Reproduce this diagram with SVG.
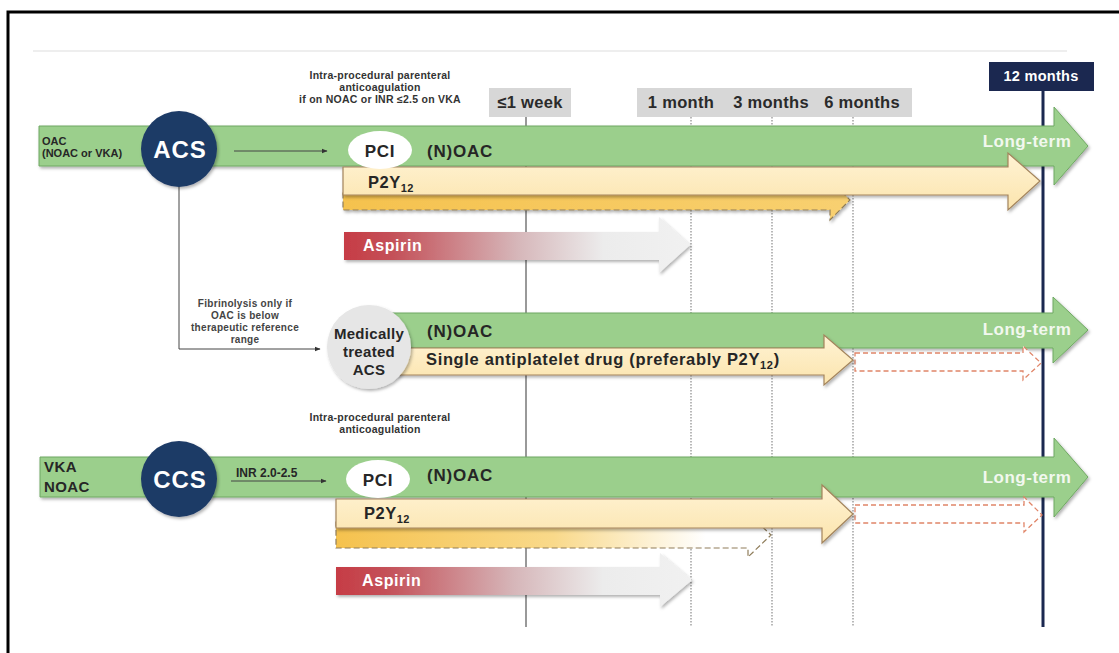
<svg xmlns="http://www.w3.org/2000/svg" width="1119" height="653" viewBox="0 0 1119 653">
<style>
  text { font-family: "Liberation Sans", Arial, sans-serif; font-weight: bold; }
  .dark { fill: #262626; }
  .white { fill: #ffffff; }
  .note { font-size: 10.5px; fill: #333; letter-spacing: 0.25px; }
  .fib { font-size: 10px; fill: #444; letter-spacing: 0.3px; }
  .tick { font-size: 16.5px; fill: #2a2a2a; letter-spacing: 0.3px; }
  .green { fill: #9bcf8c; stroke: #6fa862; stroke-width: 1; }
  .cream { fill: url(#gCream); stroke: #a3845c; stroke-width: 1.2; }
  .navy { fill: #1d3a66; }
  .lbl17 { font-size: 17px; fill: #262626; letter-spacing: 0.8px; }
  .lt { font-size: 17px; fill: #f2f8ef; letter-spacing: 0.5px; }
  .vline { stroke: #8a8a8a; stroke-width: 1.2; stroke-dasharray: 1.5 1.5; fill: none; }
  .conn { stroke: #444; stroke-width: 1; fill: none; }
  .reddash { fill: #ffffff; stroke: #e08568; stroke-width: 1.3; stroke-dasharray: 5 3; }
  .golddash { stroke: #8f7d5a; stroke-width: 1.2; stroke-dasharray: 6 3; }
  .asp { font-size: 16px; fill: #ffffff; letter-spacing: 0.6px; }
</style>
<defs>
  <filter id="sh" x="-5%" y="-20%" width="110%" height="150%">
    <feDropShadow dx="1.5" dy="2" stdDeviation="1.5" flood-color="#000" flood-opacity="0.3"/>
  </filter>
  <linearGradient id="gCream" x1="0" y1="0" x2="0" y2="1">
    <stop offset="0" stop-color="#fff3d4"/>
    <stop offset="1" stop-color="#fbe4ad"/>
  </linearGradient>
  <linearGradient id="gGoldTop" x1="0" y1="0" x2="1" y2="0">
    <stop offset="0" stop-color="#f5c24e"/>
    <stop offset="1" stop-color="#f8d070"/>
  </linearGradient>
  <linearGradient id="gGoldBot" x1="0" y1="0" x2="1" y2="0">
    <stop offset="0" stop-color="#f5c24e"/>
    <stop offset="0.5" stop-color="#f9d98a"/>
    <stop offset="0.85" stop-color="#ffffff"/>
    <stop offset="1" stop-color="#ffffff"/>
  </linearGradient>
  <linearGradient id="gAsp" x1="0" y1="0" x2="1" y2="0">
    <stop offset="0" stop-color="#c63c45"/>
    <stop offset="0.15" stop-color="#c4525a"/>
    <stop offset="0.5" stop-color="#d6b6b9"/>
    <stop offset="0.75" stop-color="#ececec"/>
    <stop offset="1" stop-color="#f1f1f1"/>
  </linearGradient>
  <marker id="ah" viewBox="0 0 10 10" refX="9" refY="5" markerWidth="6" markerHeight="6" orient="auto">
    <path d="M0,1 L10,5 L0,9 Z" fill="#333"/>
  </marker>
</defs>

<rect width="1119" height="653" fill="#ffffff"/>
<rect x="8" y="12" width="1125" height="650" fill="none" stroke="#000" stroke-width="3"/>
<line x1="33" y1="51" x2="1067" y2="51" stroke="#eeeeee" stroke-width="2"/>

<!-- timeline -->
<g id="timeline">
  <line x1="526" y1="117" x2="526" y2="627" stroke="#777" stroke-width="1.5"/>
  <line class="vline" x1="691" y1="117" x2="691" y2="627"/>
  <line class="vline" x1="772" y1="117" x2="772" y2="627"/>
  <line class="vline" x1="853" y1="117" x2="853" y2="627"/>
  <line x1="1043" y1="91" x2="1043" y2="627" stroke="#1b2850" stroke-width="3"/>
  <rect x="489" y="88" width="82" height="29" fill="#d7d7d7"/>
  <text class="tick" x="530" y="108" text-anchor="middle">≤1 week</text>
  <rect x="637" y="88" width="275" height="29" fill="#d7d7d7"/>
  <text class="tick" x="681" y="108" text-anchor="middle">1 month</text>
  <text class="tick" x="771" y="108" text-anchor="middle">3 months</text>
  <text class="tick" x="862" y="108" text-anchor="middle">6 months</text>
  <rect x="989" y="62" width="105" height="29" fill="#1b2850"/>
  <text x="1041" y="81" text-anchor="middle" class="white" font-size="14.5" letter-spacing="0.3">12 months</text>
</g>

<!-- ACS row -->
<g id="acs-noac-bar">
  <polygon class="green" filter="url(#sh)" points="39,126 1054,126 1054,107 1088,146 1054,185 1054,166 39,166"/>
  <text class="dark" font-size="11" x="42" y="145">OAC</text>
  <text class="dark" font-size="11" x="42" y="157">(NOAC or VKA)</text>
  <text class="lbl17" x="427" y="157">(N)OAC</text>
  <text class="lt" x="1027" y="147" text-anchor="middle">Long-term</text>
</g>
<g id="acs-dapt-dashed">
  <polygon fill="url(#gGoldTop)" class="golddash" filter="url(#sh)" points="343,190 830,190 830,180 850,200 830,220 830,210 343,210"/>
</g>
<g id="acs-p2y12">
  <polygon class="cream" filter="url(#sh)" points="343,167 1008,167 1008,153 1040,181 1008,210 1008,195 343,195"/>
  <text class="dark" font-size="16.5" x="368" y="188" letter-spacing="0.5">P2Y<tspan font-size="11" dy="4">12</tspan></text>
</g>
<g id="acs-aspirin">
  <polygon fill="url(#gAsp)" filter="url(#sh)" points="344,232 659,232 659,217 690,245 659,273 659,260 344,260"/>
  <text class="asp" x="363" y="251">Aspirin</text>
</g>
<g id="acs-note">
  <text class="note" x="380" y="79" text-anchor="middle">Intra-procedural parenteral</text>
  <text class="note" x="380" y="91" text-anchor="middle">anticoagulation</text>
  <text class="note" x="380" y="103" text-anchor="middle">if on NOAC or INR ≤2.5 on VKA</text>
</g>

<!-- Medically treated row -->
<g id="med-noac-bar">
  <polygon class="green" filter="url(#sh)" points="390,313 1053,313 1053,297 1088,330 1053,363 1053,348 390,348"/>
  <text class="lbl17" x="427" y="337">(N)OAC</text>
  <text class="lt" x="1027" y="335" text-anchor="middle">Long-term</text>
</g>
<g id="med-sapt-optional">
  <polygon class="reddash" points="855,353 1023,353 1023,346 1041,363 1023,380 1023,371 855,371"/>
</g>
<g id="med-sapt">
  <polygon class="cream" filter="url(#sh)" points="390,348 824,348 824,335 853,360 824,385 824,375 390,375"/>
  <text class="dark" font-size="16.5" letter-spacing="0.65" x="426" y="365">Single antiplatelet drug (preferably P2Y<tspan font-size="11" dy="4">12</tspan><tspan dy="-4">)</tspan></text>
</g>
<g id="medically-treated">
  <circle cx="369" cy="347" r="42" fill="#e6e6e6" filter="url(#sh)"/>
  <text class="dark" font-size="15" x="369" y="339" text-anchor="middle" letter-spacing="0.3">Medically</text>
  <text class="dark" font-size="15" x="369" y="357" text-anchor="middle" letter-spacing="0.3">treated</text>
  <text class="dark" font-size="15" x="369" y="375" text-anchor="middle" letter-spacing="0.3">ACS</text>
</g>
<g id="fibrinolysis-note">
  <text class="fib" x="245" y="307" text-anchor="middle">Fibrinolysis only if</text>
  <text class="fib" x="245" y="319" text-anchor="middle">OAC is below</text>
  <text class="fib" x="245" y="331" text-anchor="middle">therapeutic reference</text>
  <text class="fib" x="245" y="343" text-anchor="middle">range</text>
</g>

<!-- CCS row -->
<g id="ccs-noac-bar">
  <polygon class="green" filter="url(#sh)" points="40,457 1054,457 1054,438 1088,477 1054,517 1054,497 40,497"/>
  <text class="dark" font-size="15" x="44" y="472" letter-spacing="0.4">VKA</text>
  <text class="dark" font-size="15" x="44" y="492" letter-spacing="0.4">NOAC</text>
  <text class="lbl17" x="427" y="481">(N)OAC</text>
  <text class="lt" x="1027" y="483" text-anchor="middle">Long-term</text>
</g>
<g id="ccs-p2y12-optional">
  <polygon class="reddash" points="855,505 1024,505 1024,497 1042,515 1024,532 1024,523 855,523"/>
</g>
<g id="ccs-dapt-dashed">
  <polygon fill="url(#gGoldBot)" class="golddash" points="336,522 748,522 748,513 771,535 748,557 748,548 336,548"/>
</g>
<g id="ccs-p2y12">
  <polygon class="cream" filter="url(#sh)" points="336,499 822,499 822,485 853,514 822,543 822,528 336,528"/>
  <text class="dark" font-size="16.5" x="364" y="519" letter-spacing="0.5">P2Y<tspan font-size="11" dy="4">12</tspan></text>
</g>
<g id="ccs-aspirin">
  <polygon fill="url(#gAsp)" filter="url(#sh)" points="336,567 660,567 660,553 692,580 660,607 660,595 336,595"/>
  <text class="asp" x="362" y="586">Aspirin</text>
</g>
<g id="ccs-note">
  <text class="note" x="380" y="421" text-anchor="middle">Intra-procedural parenteral</text>
  <text class="note" x="380" y="433" text-anchor="middle">anticoagulation</text>
</g>

<!-- connectors -->
<g id="connectors">
  <line class="conn" x1="234" y1="151" x2="327" y2="151" marker-end="url(#ah)"/>
  <polyline class="conn" points="179,186 179,349 320,349" marker-end="url(#ah)"/>
  <line class="conn" x1="231" y1="481" x2="326" y2="481" marker-end="url(#ah)"/>
  <text class="dark" font-size="12" x="236" y="477">INR 2.0-2.5</text>
</g>

<!-- event nodes -->
<g id="acs">
  <circle cx="179" cy="149" r="38" class="navy" filter="url(#sh)"/>
  <text class="white" font-size="24" x="180" y="158" text-anchor="middle" letter-spacing="1">ACS</text>
</g>
<g id="pci-acs">
  <ellipse cx="380" cy="150" rx="32" ry="19" fill="#ffffff"/>
  <text class="lbl17" x="380" y="157" text-anchor="middle">PCI</text>
</g>
<g id="ccs">
  <circle cx="179" cy="479" r="38" class="navy" filter="url(#sh)"/>
  <text class="white" font-size="24" x="180" y="488" text-anchor="middle" letter-spacing="1">CCS</text>
</g>
<g id="pci-ccs">
  <ellipse cx="378" cy="479" rx="32" ry="19" fill="#ffffff"/>
  <text class="lbl17" x="378" y="486" text-anchor="middle">PCI</text>
</g>
</svg>
